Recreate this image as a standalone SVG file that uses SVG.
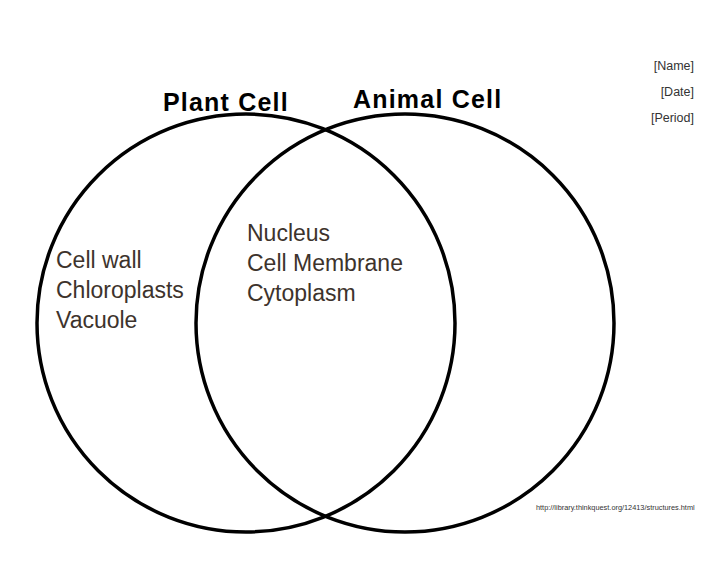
<svg xmlns="http://www.w3.org/2000/svg" width="728" height="563" viewBox="0 0 728 563">
<style>
.circ{fill:none;stroke:#000;stroke-width:3.5}
.title{font-family:"Liberation Sans",Arial,sans-serif;font-weight:bold;font-size:25px;fill:#000;letter-spacing:1.2px}
.meta{font-family:"Liberation Sans",Arial,sans-serif;font-size:12.5px;fill:#333;text-anchor:end}
.hand{font-family:"Liberation Sans",Arial,sans-serif;font-size:23px;fill:#3d332c}
.url{font-family:"Liberation Sans",Arial,sans-serif;font-size:7.35px;fill:#333}
</style>
<rect width="728" height="563" fill="#fff"/>
<g id="plant-cell">
<circle class="circ" cx="246" cy="323" r="209"/>
<text class="title" x="163" y="111">Plant Cell</text>
<text class="hand" x="56" y="268">Cell wall</text>
<text class="hand" x="56" y="298">Chloroplasts</text>
<text class="hand" x="56" y="328">Vacuole</text>
</g>
<g id="animal-cell">
<circle class="circ" cx="405" cy="323" r="209"/>
<text class="title" x="353" y="108">Animal Cell</text>
</g>
<g id="shared">
<text class="hand" x="247" y="241">Nucleus</text>
<text class="hand" x="247" y="271">Cell Membrane</text>
<text class="hand" x="247" y="301">Cytoplasm</text>
</g>
<g id="header">
<text class="meta" x="694" y="70">[Name]</text>
<text class="meta" x="694" y="96">[Date]</text>
<text class="meta" x="694" y="122">[Period]</text>
</g>
<g id="source">
<text class="url" x="536" y="510">http://library.thinkquest.org/12413/structures.html</text>
</g>
<g id="connectors"></g>
</svg>
